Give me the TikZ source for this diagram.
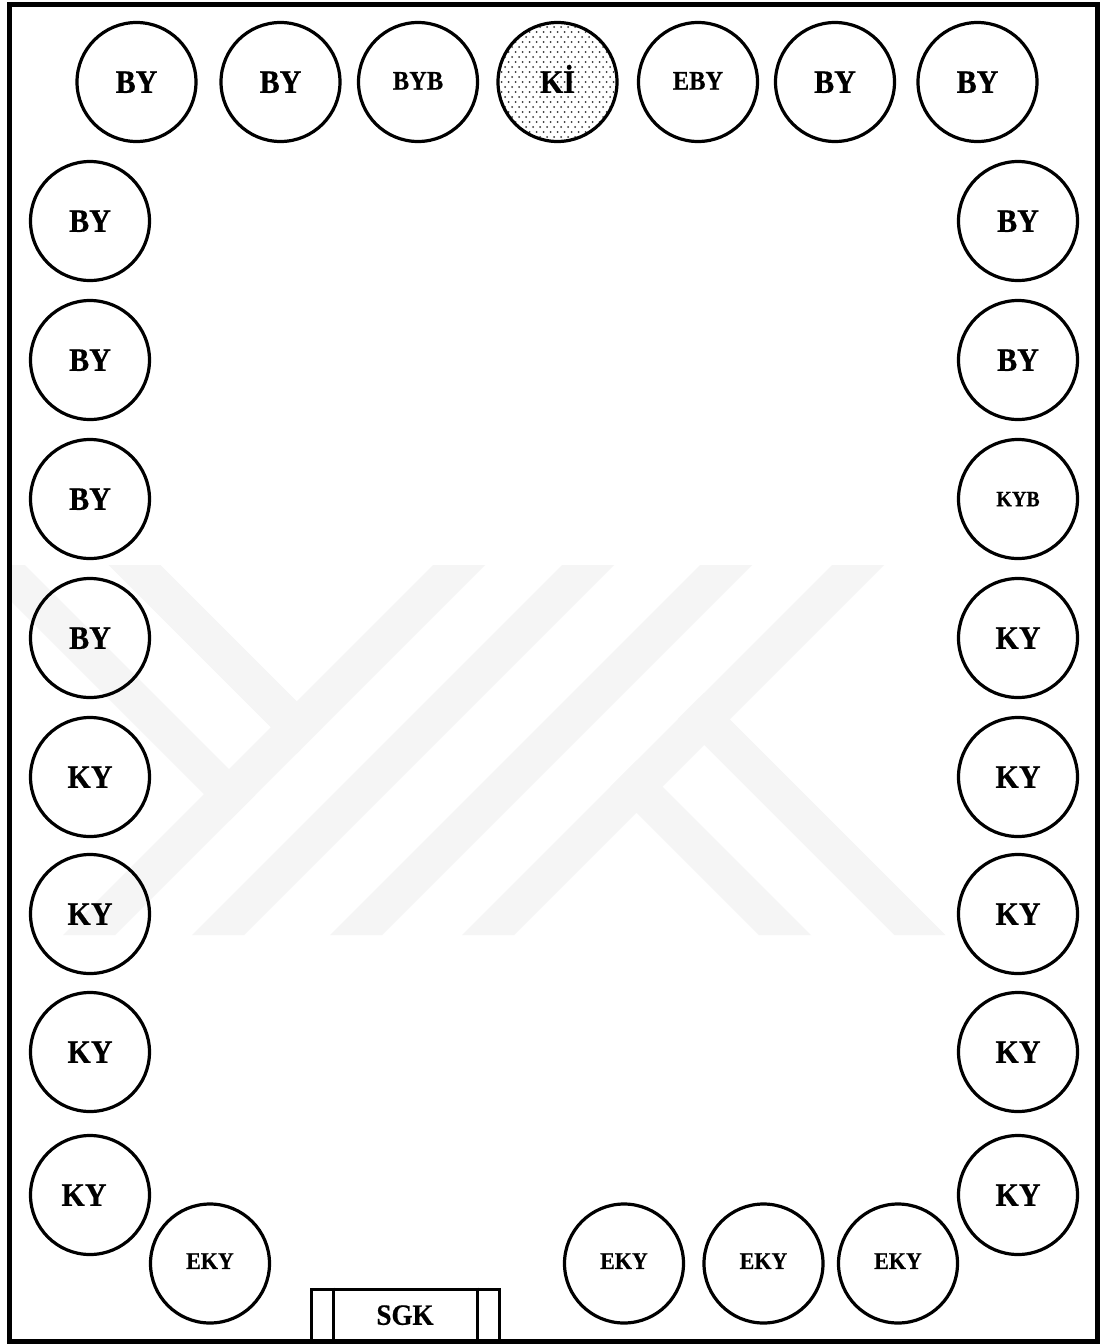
\documentclass[tikz,border=0pt]{standalone}
\usepackage{fontspec}
\setmainfont{Liberation Serif}[BoldFeatures={FakeBold=0.6}]
\newcommand{\tallt}[1]{\scalebox{1}[1.09]{#1}}
\begin{document}
\begin{tikzpicture}[x=1pt,y=-1pt]
\tikzset{
  seat/.style={circle, draw, line width=3.2pt, minimum size=119pt, inner sep=0pt,
    font=\bfseries\fontsize{30}{30}\selectfont, text height=21.7pt, text depth=0pt},
  seatmid/.style={seat, font=\bfseries\fontsize{24.5}{24.5}\selectfont, text height=17.7pt, text depth=2.6pt},
  seatkyb/.style={seat, font=\bfseries\fontsize{20}{20}\selectfont, text height=14.4pt, text depth=0pt},
  seateky/.style={seat, font=\bfseries\fontsize{22}{22}\selectfont, text height=15.9pt, text depth=5pt},
  frameline/.style={line width=5pt},
  wm/.style={fill=gray!8, draw=none},
  doorbox/.style={rectangle, draw, line width=3pt, minimum width=188pt, minimum height=52pt, inner sep=0pt,
    font=\bfseries\fontsize{27}{27}\selectfont, text height=19.5pt, text depth=0pt},
  dooredge/.style={line width=3pt}
}
\useasboundingbox (0,0) rectangle (1104,1344);
\fill[white] (0,0) rectangle (1104,1344);
% watermark
\begin{scope}
\clip (11,565) rectangle (1095,935);
\fill[wm] (433,565) -- (485,565) -- (115,935) -- (63,935) -- cycle;
\fill[wm] (562,565) -- (614,565) -- (244,935) -- (192,935) -- cycle;
\fill[wm] (700,565) -- (752,565) -- (382,935) -- (330,935) -- cycle;
\fill[wm] (832,565) -- (884,565) -- (514,935) -- (462,935) -- cycle;
\fill[wm] (108.6,565) -- (160.3,565) -- (322.6,727.3) -- (296.8,753.2) -- cycle;
\fill[wm] (0,540) -- (255,795) -- (230,820) -- (0,590) -- cycle;
\fill[wm] (703.7,693.3) -- (945.3,935) -- (894.5,935) -- (678.2,718.7) -- cycle;
\fill[wm] (636.5,760.5) -- (811,935) -- (759,935) -- (610.5,786.5) -- cycle;
\end{scope}
% frame
\draw[frameline] (9.5,4) rectangle (1097.5,1341);
% dotted fill of Ki
\begin{scope}
\clip (557.5,82) circle (58pt);
\foreach \r in {-13,...,13}{
  \foreach \c in {-9,...,9}{
    \fill[black!80] ({557.5+\c*7+3.5*mod(abs(\r),2)},{82+\r*5}) circle (1pt);
  }
}
\end{scope}
% top row
\node[seat] (t1) at (136.5,82) {\tallt{BY}};
\node[seat] (t2) at (280.5,82) {\tallt{BY}};
\node[seatmid] (t3) at (418,82) {\tallt{BYB}};
\node[seat] (t4) at (557.5,82) {\tallt{Kİ}};
\node[seatmid] (t5) at (698,82) {\tallt{EBY}};
\node[seat] (t6) at (835,82) {\tallt{BY}};
\node[seat] (t7) at (977.5,82) {\tallt{BY}};
% left column
\node[seat] (l1) at (90,221) {\tallt{BY}};
\node[seat] (l2) at (90,360) {\tallt{BY}};
\node[seat] (l3) at (90,499) {\tallt{BY}};
\node[seat] (l4) at (90,638) {\tallt{BY}};
\node[seat] (l5) at (90,777) {\tallt{KY}};
\node[seat] (l6) at (90,914) {\tallt{KY}};
\node[seat] (l7) at (90,1052) {\tallt{KY}};
\node[seat] (l8) at (90,1195) {\hspace*{-12pt}\tallt{KY}};
% right column
\node[seat] (r1) at (1018,221) {\tallt{BY}};
\node[seat] (r2) at (1018,360) {\tallt{BY}};
\node[seatkyb] (r3) at (1018,499) {\tallt{KYB}};
\node[seat] (r4) at (1018,638) {\tallt{KY}};
\node[seat] (r5) at (1018,777) {\tallt{KY}};
\node[seat] (r6) at (1018,914) {\tallt{KY}};
\node[seat] (r7) at (1018,1052) {\tallt{KY}};
\node[seat] (r8) at (1018,1195) {\tallt{KY}};
% bottom row
\node[seateky] (b1) at (210,1263.5) {\tallt{EKY}};
\node[seateky] (b2) at (624,1263.5) {\tallt{EKY}};
\node[seateky] (b3) at (763.5,1263.5) {\tallt{EKY}};
\node[seateky] (b4) at (898,1263.5) {\tallt{EKY}};
% door
\node[doorbox] (sgk) at (405,1315) {\tallt{SGK}};
\draw[dooredge] ([xshift=24pt]sgk.north west) -- ([xshift=24pt]sgk.south west);
\draw[dooredge] ([xshift=-23pt]sgk.north east) -- ([xshift=-23pt]sgk.south east);
\end{tikzpicture}
\end{document}
